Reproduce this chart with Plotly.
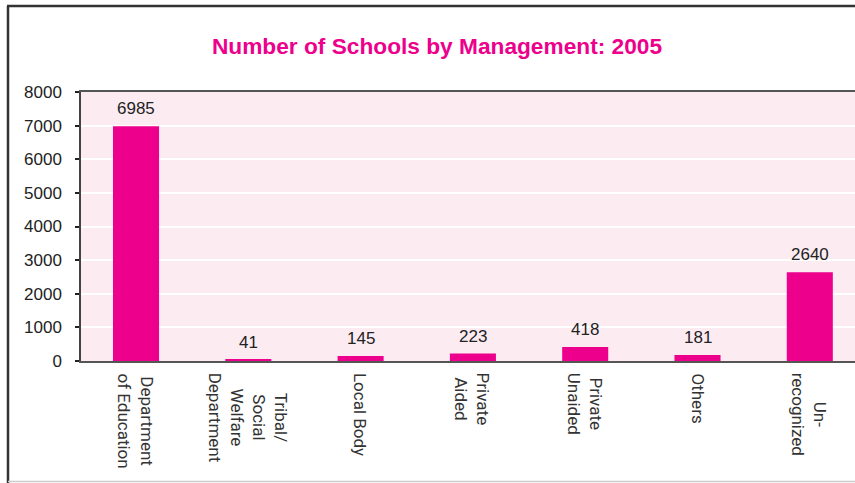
import plotly.graph_objects as go

categories = ["Department<br>of Education", "Tribal/<br>Social<br>Welfare<br>Department",
              "Local Body", "Private<br>Aided", "Private<br>Unaided", "Others", "Un-<br>recognized"]
values = [6985, 41, 145, 223, 418, 181, 2640]
y_ticks = [0, 1000, 2000, 3000, 4000, 5000, 6000, 7000, 8000]
title_text = "Number of Schools by Management: 2005"

W, H = 855, 483
ML, MR, MT, MB = 81, 0, 92, 122
PW, PH = W - ML - MR, H - MT - MB

def px_x(px):
    return (px - ML) / PW

def px_y(py):
    return (H - MB - py) / PH

MAGENTA = "#ec008c"
xcats = list(range(len(categories)))

fig = go.Figure(go.Bar(x=xcats, y=values, marker=dict(color=MAGENTA, line=dict(width=0)),
                       width=0.41, hoverinfo="skip"))

for i, v in enumerate(values):
    fig.add_annotation(x=i, y=v, text=str(v), showarrow=False, yanchor="bottom",
                       yshift=6, font=dict(family="Liberation Sans, Arial", size=17, color="#222"))
for i, c in enumerate(categories):
    fig.add_annotation(x=i, y=px_y(371), yref="paper", text=c, showarrow=False,
                       textangle=90, yanchor="top", xanchor="center", align="center",
                       font=dict(family="Roboto, Liberation Sans", size=17, color="#333"))

# outer frame
fig.add_shape(type="line", xref="paper", yref="paper", x0=px_x(8), x1=px_x(8),
              y0=px_y(6), y1=px_y(484), line=dict(color="#333", width=2.5))
fig.add_shape(type="line", xref="paper", yref="paper", x0=px_x(7), x1=px_x(856),
              y0=px_y(6), y1=px_y(6), line=dict(color="#333", width=2.5))
fig.add_shape(type="line", xref="paper", yref="paper", x0=px_x(8), x1=px_x(856),
              y0=px_y(481.5), y1=px_y(481.5), line=dict(color="#cccccc", width=1.5))

fig.update_layout(
    width=W, height=H,
    margin=dict(l=ML, r=MR, t=MT, b=MB, pad=0),
    paper_bgcolor="white", plot_bgcolor="#fcecf2",
    showlegend=False,
    title=dict(text="<b>" + title_text + "</b>", x=437 / W, xanchor="center", xref="container",
               y=1 - 46 / H, yanchor="middle", yref="container",
               font=dict(family="Liberation Sans, Arial", size=22.7, color=MAGENTA)),
    xaxis=dict(range=[-0.49, (W - MR - 136) / 112.3], showticklabels=False, ticks="",
               showgrid=False, zeroline=False, showline=True, linecolor="#555",
               linewidth=1.5, mirror=True),
    yaxis=dict(range=[0, 8000], tickvals=y_ticks, ticks="outside", ticklen=4,
               tickcolor="#222", tickwidth=2, showline=True, linecolor="#444",
               linewidth=1.5, gridcolor="white", gridwidth=2, zeroline=False,
               ticklabelstandoff=10,
               tickfont=dict(family="Liberation Sans, Arial", size=17, color="#222")),
)

fig.write_html("out.html", config={"displayModeBar": False},
               post_script="document.body.style.margin='0';")
